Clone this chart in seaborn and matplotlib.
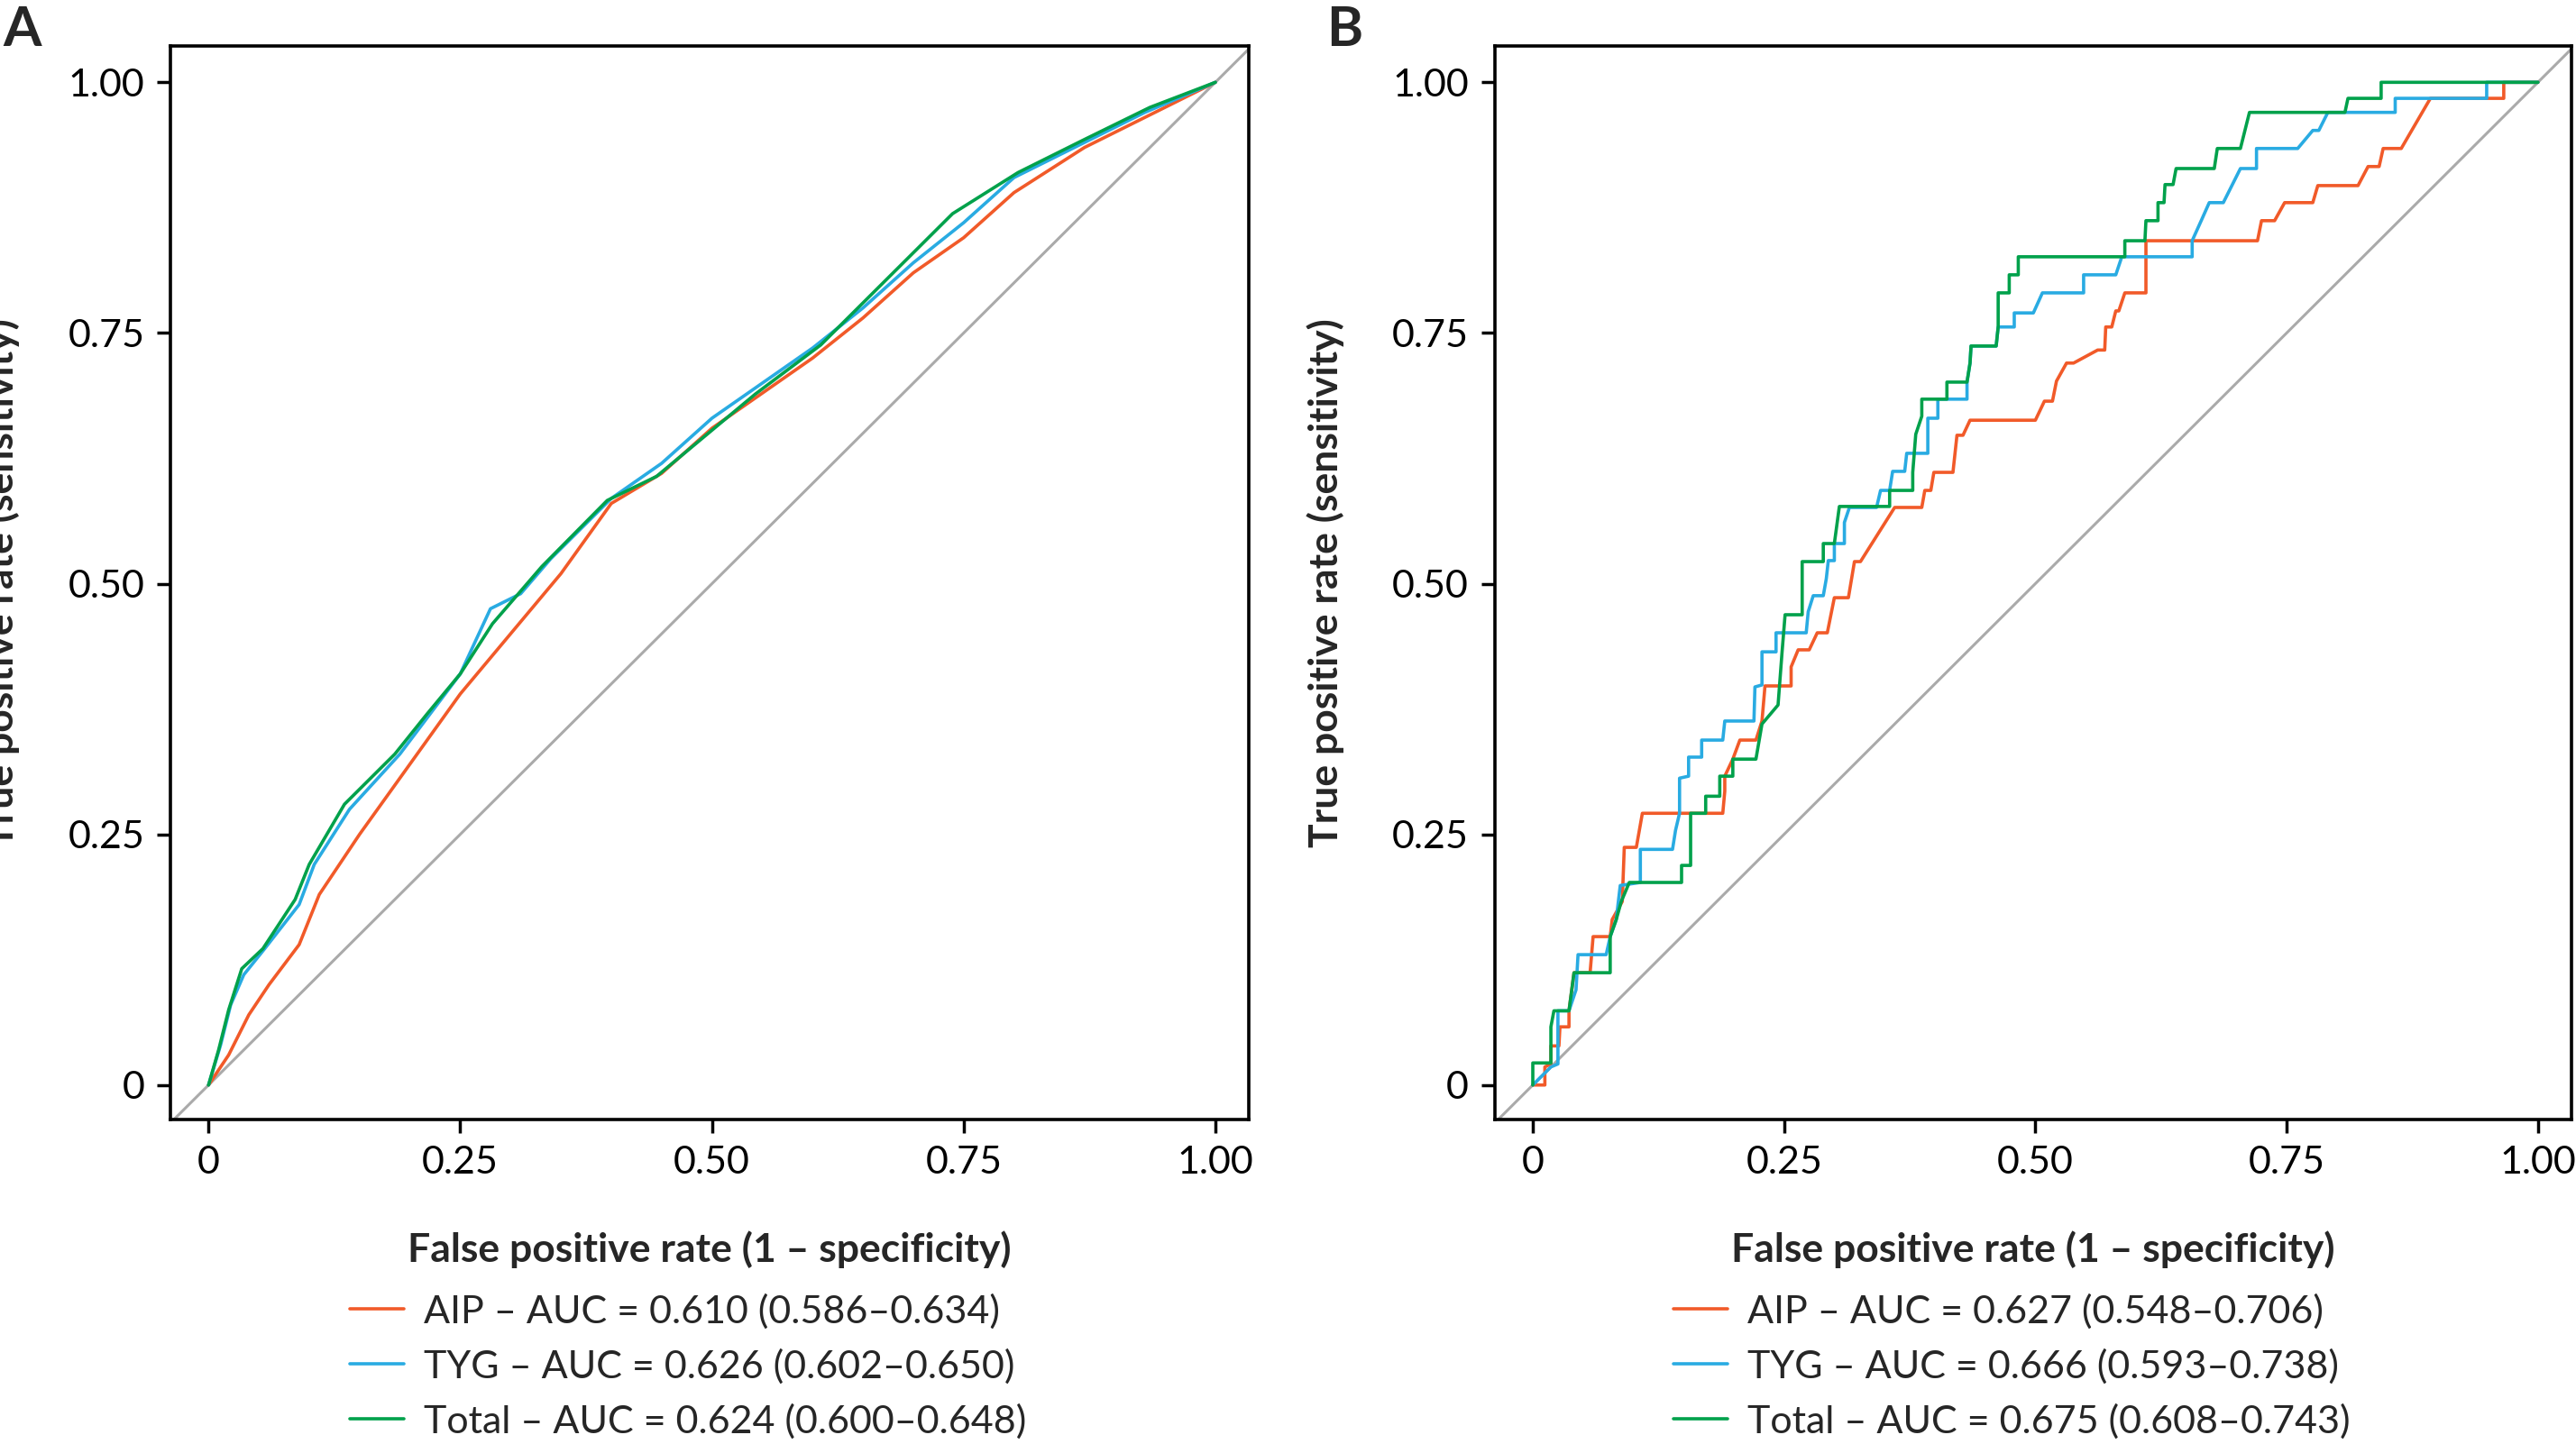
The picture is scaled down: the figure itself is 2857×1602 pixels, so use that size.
import matplotlib.pyplot as plt
import pandas as pd
import seaborn as sns

# Panel A ROC points (fpr, tpr)
a_aip_fpr = [0, 0.02, 0.04, 0.06, 0.09, 0.11, 0.15, 0.2, 0.25, 0.3, 0.35, 0.4, 0.45, 0.5, 0.55, 0.6, 0.65, 0.7, 0.75, 0.8, 0.87, 0.93, 1]
a_aip_tpr = [0, 0.03, 0.07, 0.1, 0.14, 0.19, 0.25, 0.32, 0.39, 0.45, 0.51, 0.58, 0.61, 0.655, 0.69, 0.725, 0.765, 0.81, 0.845, 0.89, 0.935, 0.965, 1]
a_tyg_fpr = [0, 0.012, 0.022, 0.035, 0.055, 0.09, 0.105, 0.14, 0.19, 0.22, 0.25, 0.28, 0.31, 0.34, 0.4, 0.45, 0.5, 0.55, 0.6, 0.65, 0.7, 0.75, 0.8, 0.87, 0.93, 1]
a_tyg_tpr = [0, 0.04, 0.08, 0.11, 0.135, 0.18, 0.22, 0.275, 0.33, 0.37, 0.41, 0.475, 0.49, 0.525, 0.585, 0.62, 0.665, 0.7, 0.735, 0.775, 0.82, 0.86, 0.905, 0.94, 0.97, 1]
a_tot_fpr = [0, 0.01, 0.02, 0.033, 0.054, 0.086, 0.10, 0.135, 0.185, 0.217, 0.25, 0.282, 0.331, 0.396, 0.445, 0.494, 0.543, 0.608, 0.674, 0.739, 0.804, 0.87, 0.935, 1]
a_tot_tpr = [0, 0.035, 0.075, 0.116, 0.136, 0.185, 0.22, 0.28, 0.33, 0.37, 0.41, 0.46, 0.517, 0.583, 0.607, 0.648, 0.689, 0.738, 0.804, 0.869, 0.91, 0.943, 0.975, 1]

# Panel B ROC points (fpr, tpr)
b_aip_fpr = [0, 0.012, 0.012, 0.018, 0.018, 0.026, 0.027, 0.036, 0.036, 0.041, 0.057, 0.06, 0.077, 0.079, 0.089, 0.091, 0.103, 0.109, 0.189, 0.191, 0.191, 0.199, 0.206, 0.222, 0.228, 0.231, 0.257, 0.257, 0.264, 0.275, 0.283, 0.293, 0.3, 0.314, 0.32, 0.326, 0.36, 0.387, 0.39, 0.396, 0.399, 0.418, 0.422, 0.428, 0.435, 0.5, 0.509, 0.517, 0.521, 0.531, 0.538, 0.562, 0.569, 0.57, 0.576, 0.58, 0.583, 0.589, 0.61, 0.61, 0.721, 0.725, 0.738, 0.748, 0.776, 0.781, 0.821, 0.831, 0.842, 0.846, 0.864, 0.893, 0.966, 0.966, 1]
b_aip_tpr = [0, 0, 0.018, 0.021, 0.039, 0.039, 0.058, 0.058, 0.074, 0.112, 0.112, 0.148, 0.148, 0.165, 0.183, 0.237, 0.237, 0.271, 0.271, 0.293, 0.308, 0.325, 0.344, 0.344, 0.363, 0.398, 0.398, 0.417, 0.434, 0.434, 0.451, 0.451, 0.486, 0.486, 0.522, 0.522, 0.576, 0.576, 0.593, 0.593, 0.611, 0.611, 0.648, 0.648, 0.663, 0.663, 0.682, 0.682, 0.702, 0.72, 0.72, 0.733, 0.733, 0.756, 0.756, 0.772, 0.772, 0.79, 0.79, 0.842, 0.842, 0.862, 0.862, 0.88, 0.88, 0.897, 0.897, 0.916, 0.916, 0.934, 0.934, 0.984, 0.984, 1.0, 1]
b_tyg_fpr = [0, 0.018, 0.025, 0.025, 0.036, 0.043, 0.045, 0.073, 0.077, 0.083, 0.087, 0.107, 0.107, 0.139, 0.142, 0.146, 0.146, 0.155, 0.155, 0.168, 0.168, 0.189, 0.191, 0.22, 0.221, 0.228, 0.228, 0.242, 0.242, 0.272, 0.274, 0.279, 0.289, 0.292, 0.294, 0.3, 0.3, 0.31, 0.31, 0.315, 0.342, 0.346, 0.355, 0.358, 0.37, 0.372, 0.393, 0.393, 0.403, 0.403, 0.432, 0.432, 0.435, 0.436, 0.461, 0.463, 0.479, 0.479, 0.498, 0.507, 0.548, 0.548, 0.58, 0.586, 0.656, 0.656, 0.665, 0.673, 0.687, 0.704, 0.72, 0.72, 0.761, 0.776, 0.782, 0.791, 0.858, 0.858, 0.949, 0.949, 1]
b_tyg_tpr = [0, 0.018, 0.021, 0.074, 0.074, 0.095, 0.13, 0.13, 0.148, 0.165, 0.199, 0.202, 0.235, 0.235, 0.254, 0.271, 0.306, 0.308, 0.327, 0.327, 0.344, 0.344, 0.363, 0.363, 0.397, 0.399, 0.432, 0.432, 0.451, 0.451, 0.472, 0.488, 0.488, 0.505, 0.523, 0.523, 0.54, 0.54, 0.561, 0.576, 0.576, 0.593, 0.593, 0.612, 0.612, 0.63, 0.63, 0.665, 0.665, 0.684, 0.684, 0.701, 0.72, 0.737, 0.737, 0.756, 0.756, 0.77, 0.77, 0.79, 0.79, 0.808, 0.808, 0.826, 0.826, 0.842, 0.862, 0.88, 0.88, 0.914, 0.914, 0.934, 0.934, 0.952, 0.952, 0.97, 0.97, 0.984, 0.984, 1.0, 1]
b_tot_fpr = [0, 0, 0.018, 0.018, 0.021, 0.036, 0.041, 0.077, 0.077, 0.083, 0.088, 0.096, 0.148, 0.148, 0.157, 0.157, 0.172, 0.172, 0.186, 0.186, 0.199, 0.199, 0.222, 0.228, 0.244, 0.248, 0.251, 0.268, 0.268, 0.289, 0.289, 0.3, 0.305, 0.355, 0.355, 0.378, 0.378, 0.381, 0.387, 0.387, 0.412, 0.412, 0.432, 0.435, 0.436, 0.461, 0.463, 0.463, 0.474, 0.474, 0.483, 0.483, 0.589, 0.589, 0.609, 0.61, 0.622, 0.622, 0.628, 0.629, 0.637, 0.64, 0.678, 0.681, 0.704, 0.713, 0.808, 0.811, 0.844, 0.844, 1]
b_tot_tpr = [0, 0.022, 0.022, 0.058, 0.074, 0.074, 0.112, 0.112, 0.148, 0.165, 0.183, 0.202, 0.202, 0.219, 0.219, 0.271, 0.271, 0.288, 0.288, 0.308, 0.308, 0.325, 0.325, 0.36, 0.379, 0.432, 0.469, 0.469, 0.522, 0.522, 0.54, 0.54, 0.577, 0.577, 0.593, 0.593, 0.611, 0.649, 0.667, 0.684, 0.684, 0.701, 0.701, 0.72, 0.737, 0.737, 0.756, 0.79, 0.79, 0.808, 0.808, 0.826, 0.826, 0.842, 0.842, 0.862, 0.862, 0.88, 0.88, 0.898, 0.898, 0.914, 0.914, 0.934, 0.934, 0.97, 0.97, 0.984, 0.984, 1.0, 1]

labels_a = ['AIP – AUC = 0.610 (0.586–0.634)', 'TYG – AUC = 0.626 (0.602–0.650)', 'Total – AUC = 0.624 (0.600–0.648)']
labels_b = ['AIP – AUC = 0.627 (0.548–0.706)', 'TYG – AUC = 0.666 (0.593–0.738)', 'Total – AUC = 0.675 (0.608–0.743)']
colors = ['#F15A29', '#29ABE2', '#00A14B']
ticks = [0, 0.25, 0.5, 0.75, 1.0]
tick_labels = ['0', '0.25', '0.50', '0.75', '1.00']

sns.set_style('white')
plt.rcParams['font.family'] = ['Lato', 'DejaVu Sans']


def make_df(curves, labels):
    parts = []
    for (f, t), lab in zip(curves, labels):
        parts.append(pd.DataFrame({'fpr': f, 'tpr': t, 'model': lab}))
    return pd.concat(parts, ignore_index=True)


fig = plt.figure(figsize=(28.57, 16.02), dpi=100)
ax1 = fig.add_axes([0.0663, 0.225, 0.4184, 0.743])
ax2 = fig.add_axes([0.5804, 0.225, 0.4177, 0.743])

panels = [
    (ax1, make_df([(a_aip_fpr, a_aip_tpr), (a_tyg_fpr, a_tyg_tpr), (a_tot_fpr, a_tot_tpr)], labels_a), labels_a, 'A'),
    (ax2, make_df([(b_aip_fpr, b_aip_tpr), (b_tyg_fpr, b_tyg_tpr), (b_tot_fpr, b_tot_tpr)], labels_b), labels_b, 'B'),
]

for ax, d, labs, letter in panels:
    ax.plot([-0.05, 1.05], [-0.05, 1.05], color='#AAAAAA', lw=2.2, zorder=1)
    sns.lineplot(data=d, x='fpr', y='tpr', hue='model', hue_order=labs, palette=colors,
                 sort=False, estimator=None, lw=2.6, ax=ax, zorder=3)
    ax.set_xlim(-0.0375, 1.033)
    ax.set_ylim(-0.034, 1.036)
    ax.set_xticks(ticks)
    ax.set_xticklabels(tick_labels)
    ax.set_yticks(ticks)
    ax.set_yticklabels(tick_labels)
    ax.tick_params(axis='both', direction='out', length=11, width=2.5, labelsize=31, colors='black', pad=10,
                   bottom=True, left=True)
    for s in ax.spines.values():
        s.set_color('black')
        s.set_linewidth(2.6)
    ax.set_xlabel('False positive rate (1 – specificity)', fontsize=32, fontweight='bold')
    ax.set_ylabel('True positive rate (sensitivity)', fontsize=32, fontweight='bold')
    ax.xaxis.set_label_coords(0.5, -0.104)
    ax.yaxis.set_label_coords(-0.14, 0.5)
    ax.legend(loc='upper center', bbox_to_anchor=(0.48, -0.13), frameon=False, fontsize=31,
              handlelength=1.4, handletextpad=0.5, labelspacing=0.5, title=None)

fig.text(0.001, 0.997, 'A', fontsize=44, fontweight='bold', va='top', ha='left')
fig.text(0.515, 0.997, 'B', fontsize=44, fontweight='bold', va='top', ha='left')

fig.savefig('out.png', dpi=100)
